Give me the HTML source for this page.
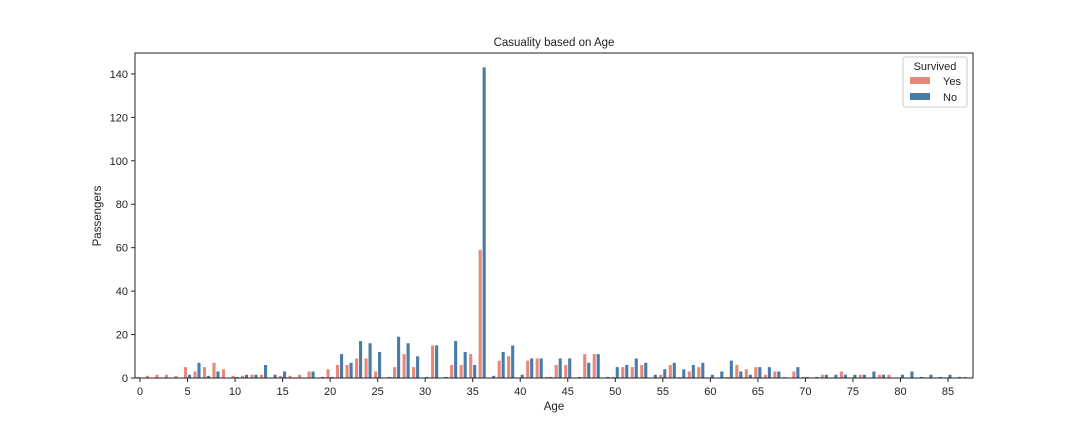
<!DOCTYPE html>
<html><head><meta charset="utf-8"><style>
body{margin:0;background:#fff;}
svg{font-family:"Liberation Sans","DejaVu Sans",sans-serif;}
</style></head><body>
<svg id="chart" width="1080" height="432" xmlns="http://www.w3.org/2000/svg">
<rect width="1080" height="432" fill="#fff"/>
<text x="554" y="46" text-anchor="middle" font-size="11.5" fill="#222">Casuality based on Age</text>
<g id="bars"></g>
<g id="axes"></g>
<rect x="135" y="53" width="838" height="325" fill="none" stroke="#222" stroke-width="1"/>
<text x="554" y="410" text-anchor="middle" font-size="11.5" fill="#222">Age</text>
<text transform="translate(101,216) rotate(-90)" text-anchor="middle" font-size="11.5" fill="#222">Passengers</text>
<g>
<rect x="903" y="57" width="64" height="50" rx="2" fill="#fff" stroke="#ccc"/>
<text x="935" y="70" text-anchor="middle" font-size="11" fill="#222">Survived</text>
<g><rect x="910" y="77" width="20" height="7" fill="#e8887b"/><text x="943" y="85" font-size="11" fill="#222">Yes</text></g>
<g><rect x="910" y="93" width="20" height="7" fill="#4a7ba6"/><text x="943" y="101" font-size="11" fill="#222">No</text></g>
</g>
</svg>
<script>
const ages = Array.from({length:88},(_,i)=>i);
const yesCounts = [0.5,1,1.5,1.5,1,5,3,5,7,4,1,1,1.5,1.5,0,1,1,1.5,3,0,4,6,6,9,9,3,0,5,11,5,0,15,0,6,6,11,59,0,8,10,0,8,9,0.5,6,6,0,11,11,0,0.5,5,5,6,0,1.5,6,0.5,3,5,0,0,0.5,6,4,5,1.5,3,0.5,3,0.5,0,1.5,0,3,0,1.5,0,1.5,1.5,0,0,0,0,0,0,0,0.5];
const noCounts = [0,0,0,0,0,1.5,7,1,3,0,0.5,1.5,1.5,6,1.5,3,0,0,3,0.5,0.5,11,7,17,16,12,0.5,19,16,10,0.5,15,0.5,17,12,6,143,1,12,15,1.5,9,9,0.5,9,9,0.5,7,11,0.5,5,6,9,7,1.5,4,7,4,6,7,1.5,3,8,3,1.5,5,5,3,0,5,0.5,0.5,1.5,1.5,1.5,1.5,1.5,3,1.5,0,1.5,3,0.5,1.5,0.5,1.5,0.5,0];
const yTicks = [0,20,40,60,80,100,120,140];
const xTicks = [0,5,10,15,20,25,30,35,40,45,50,55,60,65,70,75,80,85];
const NS="http://www.w3.org/2000/svg";
const xs = c => 140 + c*9.506;
const ys = v => 378 - v*2.172;
const bars=document.getElementById('bars'), axes=document.getElementById('axes');
function mk(tag,attrs,parent){const e=document.createElementNS(NS,tag);for(const k in attrs)e.setAttribute(k,attrs[k]);parent.appendChild(e);return e;}
ages.forEach((a,i)=>{
  const cx=xs(a);
  if(yesCounts[i]>0){const r=mk('rect',{x:cx-3.6,y:ys(yesCounts[i]),width:3.1,height:378-ys(yesCounts[i]),fill:'#e8887b'},bars);
    
    }
  if(noCounts[i]>0){const r=mk('rect',{x:cx+0.4,y:ys(noCounts[i]),width:3.1,height:378-ys(noCounts[i]),fill:'#4a7ba6'},bars);
    
    }
});
yTicks.forEach(v=>{
  const y=ys(v);
  mk('line',{x1:131,x2:135,y1:y,y2:y,stroke:'#222'},axes);
  const t=mk('text',{x:128,y:y+4,'text-anchor':'end','font-size':'11',fill:'#222'},axes);t.textContent=v;
  
  
});
xTicks.forEach(v=>{
  const x=xs(v);
  mk('line',{x1:x,x2:x,y1:378,y2:382,stroke:'#222'},axes);
  const t=mk('text',{x:x,y:395,'text-anchor':'middle','font-size':'11',fill:'#222'},axes);t.textContent=v;
  
  
});
</script>
</body></html>
